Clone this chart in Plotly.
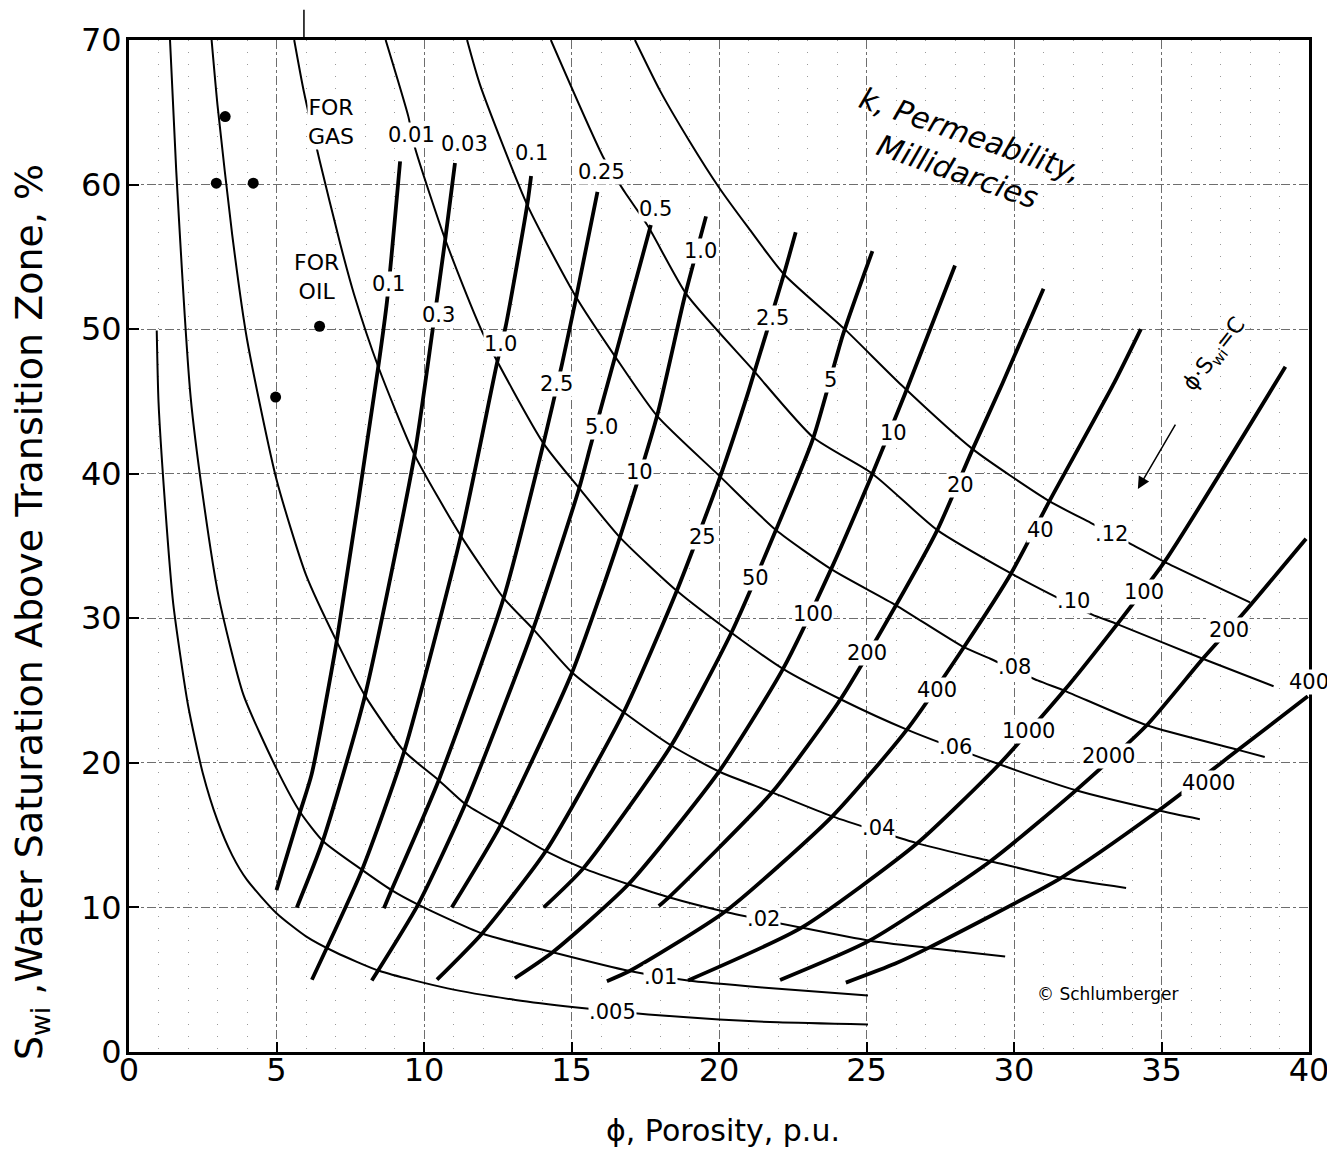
import plotly.graph_objects as go

# ---------------------------------------------------------------
# Swi vs porosity chart: phi*Sw = C curves + permeability lines
# (phi in p.u., Swi in %)
# ---------------------------------------------------------------

# bulk volume water curves  phi * Swi = C
C005_PHI = [0.94, 1.0, 1.2, 1.5, 2.0, 2.5, 3.0, 3.5, 4.0, 5.0, 6.0, 7.0, 8.5, 10.8, 13.1, 15.1, 17.6, 20.0, 22.0, 25.05]
C005_SW = [49.9, 45.0, 38.5, 31.0, 24.0, 19.3, 16.0, 13.6, 11.9, 9.6, 8.0, 6.9, 5.6, 4.4, 3.6, 3.1, 2.6, 2.25, 2.05, 1.9]

C01_PHI = [1.39, 1.6, 2.09, 2.5, 3.04, 3.88, 5.0, 5.8, 6.57, 7.9, 8.9, 9.8, 11.97, 14.36, 16.97, 18.95, 21.46, 25.05]
C01_SW = [70.0, 61.0, 45.3, 38.5, 31.5, 24.7, 19.6, 16.6, 14.6, 12.6, 11.2, 10.2, 8.2, 6.9, 5.6, 4.95, 4.47, 3.9]

C02_PHI = [2.8, 3.0, 3.5, 4.0, 5.0, 6.0, 7.04, 8.0, 9.33, 10.5, 11.4, 12.6, 14.13, 15.4, 16.93, 18.3, 20.2, 22.8, 25.1, 27.1, 29.7]
C02_SW = [70.0, 65.5, 56.5, 49.3, 39.6, 33.0, 28.4, 24.65, 20.8, 18.8, 17.15, 15.7, 13.9, 12.7, 11.6, 10.7, 9.7, 8.6, 7.7, 7.2, 6.6]

C04_PHI = [5.6, 5.93, 6.47, 7.16, 7.63, 8.45, 9.68, 11.25, 12.7, 13.7, 15.02, 16.77, 18.38, 20.0, 21.8, 23.84, 26.7, 29.2, 31.6, 33.8]
C04_SW = [70.0, 66.4, 61.6, 55.9, 52.4, 47.4, 41.3, 35.7, 31.4, 29.25, 26.25, 23.5, 21.2, 19.4, 17.96, 16.3, 14.45, 13.2, 12.05, 11.35]

C06_PHI = [8.7, 9.47, 9.68, 10.72, 12.0, 14.05, 15.26, 16.64, 18.57, 20.42, 22.17, 24.12, 26.37, 29.5, 32.1, 34.9, 36.3]
C06_SW = [70.0, 64.7, 62.65, 56.2, 49.7, 42.1, 39.0, 35.6, 31.9, 29.0, 26.5, 24.4, 22.3, 19.9, 18.1, 16.7, 16.1]

C08_PHI = [11.46, 11.9, 13.5, 15.16, 16.48, 17.9, 20.04, 21.93, 23.8, 26.0, 28.3, 29.2, 30.8, 31.7, 34.5, 37.6, 38.5]
C08_SW = [70.0, 66.9, 58.6, 52.2, 48.1, 44.0, 39.8, 36.1, 33.4, 30.9, 28.0, 27.2, 25.7, 25.0, 22.6, 20.9, 20.4]

C10_PHI = [14.3, 16.1, 16.8, 17.6, 18.9, 21.1, 23.2, 25.2, 27.4, 29.9, 31.2, 32.65, 33.5, 36.4, 38.8]
C10_SW = [70.0, 61.8, 59.5, 57.1, 52.4, 47.3, 42.5, 40.0, 36.1, 33.1, 31.7, 30.25, 29.6, 27.2, 25.3]

C12_PHI = [17.15, 18.0, 19.0, 20.0, 21.0, 22.2, 24.26, 26.2, 28.6, 31.2, 32.6, 34.0, 35.1, 38.0]
C12_SW = [70.0, 66.5, 63.0, 59.8, 57.0, 53.8, 50.0, 46.1, 41.7, 38.1, 36.6, 35.1, 33.9, 31.1]

BVW_NAMES = [".005", ".01", ".02", ".04", ".06", ".08", ".10", ".12"]

# permeability lines (k for gas / k for oil), bottom -> top
K1_PHI = [5.0, 5.8, 6.19, 7.04, 8.45, 8.75, 9.19]
K1_SW = [11.2, 16.6, 19.2, 28.4, 47.4, 52.0, 61.6]
K2_PHI = [5.69, 6.57, 8.0, 9.68, 10.29, 10.72, 11.05]
K2_SW = [10.0, 14.6, 24.65, 41.3, 49.9, 56.2, 61.5]
K3_PHI = [6.2, 7.9, 9.33, 11.25, 12.48, 12.77, 13.5, 13.63]
K3_SW = [5.0, 12.6, 20.8, 35.7, 47.7, 50.2, 58.6, 60.6]
K4_PHI = [8.64, 8.9, 10.5, 12.7, 14.05, 14.68, 15.16, 15.88]
K4_SW = [9.95, 11.2, 18.8, 31.4, 42.1, 47.6, 52.2, 59.5]
K5_PHI = [8.23, 9.8, 11.4, 13.7, 15.26, 15.67, 16.48, 17.69]
K5_SW = [4.95, 10.2, 17.15, 29.25, 39.0, 42.1, 48.1, 57.2]
K6_PHI = [10.94, 12.6, 15.02, 16.64, 17.9, 18.82, 19.56]
K6_SW = [10.0, 15.7, 26.25, 35.6, 44.0, 52.1, 57.8]
K7_PHI = [10.44, 11.97, 14.13, 16.77, 18.57, 20.04, 21.0, 22.2, 22.6]
K7_SW = [5.0, 8.2, 13.9, 23.5, 31.9, 39.8, 45.7, 53.8, 56.7]
K8_PHI = [14.06, 15.4, 18.38, 20.42, 21.93, 23.2, 24.2, 25.2]
K8_SW = [10.0, 12.7, 21.2, 29.0, 36.1, 42.5, 49.6, 55.4]
K9_PHI = [13.08, 14.36, 16.93, 20.0, 22.17, 23.8, 25.2, 26.3, 28.0]
K9_SW = [5.1, 6.9, 11.6, 19.4, 26.5, 33.4, 40.0, 45.5, 54.4]
K10_PHI = [17.96, 18.3, 21.8, 24.12, 26.0, 27.4, 28.6, 29.6, 31.0]
K10_SW = [10.1, 10.7, 17.96, 24.4, 30.9, 36.1, 41.7, 46.2, 52.8]
K11_PHI = [16.2, 16.97, 20.2, 23.84, 26.37, 28.3, 29.9, 31.2, 33.4, 34.3]
K11_SW = [4.9, 5.6, 9.7, 16.3, 22.3, 28.0, 33.1, 38.1, 46.3, 50.0]
K12_PHI = [18.95, 22.8, 26.7, 29.5, 31.7, 33.5, 35.1, 39.2]
K12_SW = [4.95, 8.6, 14.4, 19.9, 25.0, 29.6, 33.9, 47.4]
K13_PHI = [22.07, 25.1, 29.2, 32.1, 34.5, 36.4, 37.8, 39.9]
K13_SW = [4.98, 7.7, 13.2, 18.1, 22.6, 27.2, 30.4, 35.5]
K14_PHI = [24.3, 25.96, 27.1, 31.6, 34.9, 37.6, 39.96]
K14_SW = [4.8, 6.1, 7.2, 12.05, 16.7, 20.9, 24.6]

K_GAS = ["0.01", "0.03", "0.1", "0.25", "0.5", "1.0", "2.5", "5", "10", "20", "40", "100", "200", "400"]
K_OIL = ["0.1", "0.3", "1.0", "2.5", "5.0", "10", "25", "50", "100", "200", "400", "1000", "2000", "4000"]

# stray points on the chart
DOT_PHI = [3.26, 2.96, 4.21, 6.46, 4.97]
DOT_SW = [64.7, 60.1, 60.1, 50.2, 45.3]

X_TICKS = [0, 5, 10, 15, 20, 25, 30, 35, 40]
Y_TICKS = [0, 10, 20, 30, 40, 50, 60, 70]

bvw_curves = [
    (C005_PHI, C005_SW), (C01_PHI, C01_SW), (C02_PHI, C02_SW), (C04_PHI, C04_SW),
    (C06_PHI, C06_SW), (C08_PHI, C08_SW), (C10_PHI, C10_SW), (C12_PHI, C12_SW),
]
k_lines = [
    (K1_PHI, K1_SW), (K2_PHI, K2_SW), (K3_PHI, K3_SW), (K4_PHI, K4_SW),
    (K5_PHI, K5_SW), (K6_PHI, K6_SW), (K7_PHI, K7_SW), (K8_PHI, K8_SW),
    (K9_PHI, K9_SW), (K10_PHI, K10_SW), (K11_PHI, K11_SW), (K12_PHI, K12_SW),
    (K13_PHI, K13_SW), (K14_PHI, K14_SW),
]

# label placement (chart coords)
bvw_label_pos = [(16.4, 2.8), (18.0, 5.2), (21.5, 9.2), (25.4, 15.5),
                 (28.0, 21.1), (30.0, 26.6), (32.0, 31.2), (33.3, 35.8)]
gas_label_pos = [(9.58, 63.4), (11.38, 62.8), (13.66, 62.2), (16.0, 60.9), (17.86, 58.3),
                 (19.37, 55.4), (21.8, 50.8), (23.78, 46.5), (25.9, 42.8), (28.2, 39.2),
                 (30.9, 36.1), (34.4, 31.8), (37.3, 29.2), (40.0, 25.6)]
oil_label_pos = [(8.8, 53.1), (10.5, 51.0), (12.6, 49.0), (14.5, 46.2), (16.0, 43.2),
                 (17.3, 40.1), (19.45, 35.65), (21.24, 32.8), (23.2, 30.3), (25.0, 27.6),
                 (27.4, 25.05), (30.5, 22.2), (33.2, 20.5), (36.6, 18.6)]

LABEL_FONT = dict(family="DejaVu Sans", size=21, color="black")

fig = go.Figure()

for phi, sw in bvw_curves:
    fig.add_trace(go.Scatter(
        x=phi, y=sw, mode="lines",
        line=dict(color="black", width=2, shape="spline", smoothing=0.6),
        hoverinfo="skip", showlegend=False,
    ))

for phi, sw in k_lines:
    fig.add_trace(go.Scatter(
        x=phi, y=sw, mode="lines",
        line=dict(color="black", width=3.8, shape="spline", smoothing=0.6),
        hoverinfo="skip", showlegend=False,
    ))

fig.add_trace(go.Scatter(
    x=DOT_PHI, y=DOT_SW, mode="markers",
    marker=dict(size=11, color="black"),
    hoverinfo="skip", showlegend=False,
))

# curve labels sit in gaps of the lines -> white boxes
for text, (lx, ly) in zip(BVW_NAMES, bvw_label_pos):
    fig.add_annotation(x=lx, y=ly, text=text, showarrow=False, font=LABEL_FONT,
                       bgcolor="white", borderpad=0)
for text, (lx, ly) in zip(K_GAS, gas_label_pos):
    fig.add_annotation(x=lx, y=ly, text=text, showarrow=False, font=LABEL_FONT,
                       bgcolor="white", borderpad=0)
for text, (lx, ly) in zip(K_OIL, oil_label_pos):
    fig.add_annotation(x=lx, y=ly, text=text, showarrow=False, font=LABEL_FONT,
                       bgcolor="white", borderpad=0)

fig.add_annotation(x=6.86, y=64.3, text="FOR<br>GAS", showarrow=False,
                   font=dict(family="DejaVu Sans", size=22, color="black"),
                   bgcolor="white", borderpad=0)
fig.add_annotation(x=6.37, y=53.6, text="FOR<br>OIL", showarrow=False,
                   font=dict(family="DejaVu Sans", size=22, color="black"),
                   bgcolor="white", borderpad=0)

fig.add_annotation(x=28.3, y=62.2, text="k, Permeability,<br>Millidarcies",
                   showarrow=False, textangle=19,
                   font=dict(family="DejaVu Sans", size=30, color="black", style="italic"))

fig.add_annotation(x=36.8, y=48.2, text="ϕ·S<sub>wi</sub>=C", showarrow=False,
                   textangle=-52, font=dict(family="DejaVu Sans", size=22, color="black"))
fig.add_annotation(x=34.2, y=38.95, ax=35.5, ay=43.5, axref="x", ayref="y",
                   text="", showarrow=True, arrowhead=2, arrowsize=1.6,
                   arrowwidth=1.5, arrowcolor="black")

fig.add_annotation(x=33.2, y=4.0, text="© Schlumberger", showarrow=False,
                   font=dict(family="DejaVu Sans", size=17, color="black"))

# axis titles
fig.add_annotation(xref="paper", yref="paper", x=-0.082, y=0.435,
                   xanchor="center", yanchor="middle",
                   text="S<sub>wi</sub> ,Water Saturation Above Transition Zone, %",
                   textangle=-90, showarrow=False,
                   font=dict(family="DejaVu Sans", size=38, color="black"))
fig.add_annotation(xref="paper", yref="paper", x=0.503, y=-0.078,
                   xanchor="center", yanchor="middle",
                   text="ϕ, Porosity, p.u.", showarrow=False,
                   font=dict(family="DejaVu Sans", size=30, color="black"))

# little tick above the frame
fig.add_shape(type="line", xref="x", yref="paper", x0=5.93, x1=5.93, y0=1.0, y1=1.03,
              line=dict(color="black", width=1.5))

axis_common = dict(
    showline=True, mirror=True, linecolor="black", linewidth=3,
    zeroline=False, ticks="inside", ticklen=10, tickwidth=2, tickcolor="black",
    tickfont=dict(family="DejaVu Sans", size=32, color="black"),
    showgrid=True, gridcolor="#6e6e6e", gridwidth=1, griddash="dashdot",
)

fig.update_xaxes(range=[0, 40], tickvals=X_TICKS, ticktext=[str(v) for v in X_TICKS],
                 ticklabelstandoff=-12,
                 minor=dict(dtick=1, showgrid=True, gridcolor="#9a9a9a",
                            griddash="1px,11px", gridwidth=1),
                 **axis_common)
fig.update_yaxes(range=[0, 70], tickvals=Y_TICKS, ticktext=[str(v) for v in Y_TICKS],
                 ticklabelstandoff=-2,
                 **axis_common)

fig.update_layout(
    width=1335, height=1166,
    margin=dict(l=121, r=34, t=32, b=122),
    plot_bgcolor="white", paper_bgcolor="white",
    showlegend=False,
)

fig.write_html("out.html")
